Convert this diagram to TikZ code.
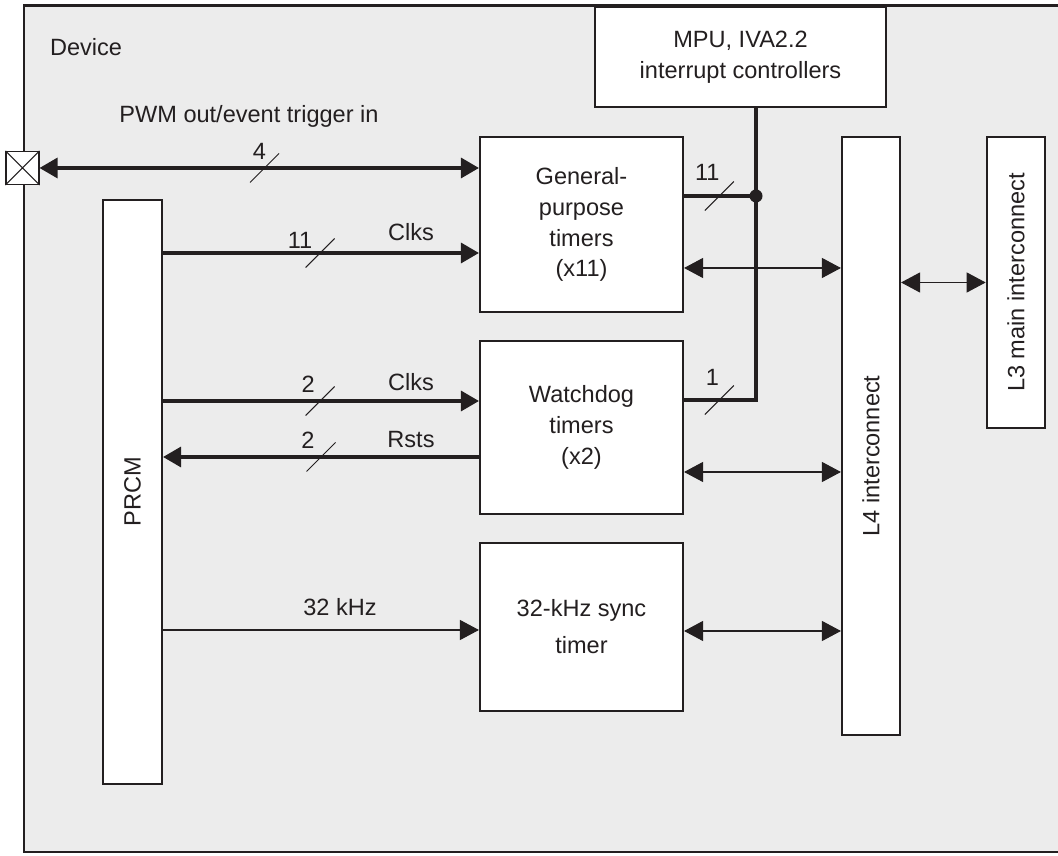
\documentclass[tikz,border=0pt]{standalone}
\usepackage{fontspec}
\setmainfont{Liberation Sans}
\usetikzlibrary{arrows.meta,calc}
\definecolor{inkdark}{HTML}{231F20}
\definecolor{devicefill}{HTML}{ECECEC}
\tikzset{
  devicebox/.style={draw=inkdark, fill=devicefill, line width=1.7pt},
  block/.style={
    rectangle, draw=inkdark, fill=white, line width=1.2pt,
    align=center, inner sep=2pt, text=inkdark,
    font=\fontsize{13.4}{17.6}\selectfont
  },
  timerblock/.style={block, minimum width=4.06cm, minimum height=3.5cm},
  rotlabel/.style={
    rotate=90, inner sep=0pt, text=inkdark,
    font=\fontsize{13.4}{17.6}\selectfont
  },
  plaintext/.style={
    inner sep=0pt, text=inkdark, align=center,
    font=\fontsize{13.4}{17.6}\selectfont
  },
  buslabel/.style={plaintext},
  pad/.style={
    rectangle, draw=inkdark, fill=white, line width=0.6pt,
    minimum size=0.66cm, inner sep=0pt
  },
  bus/.style={
    draw=inkdark, line width=1.8pt,
    >={Triangle[length=3.6mm,width=4mm]}
  },
  link/.style={
    draw=inkdark, line width=0.6pt,
    >={Triangle[length=3.8mm,width=4mm]}
  },
  busslash/.style={draw=inkdark, line width=0.6pt},
  tapdot/.style={circle, fill=inkdark, minimum size=0.26cm, inner sep=0pt}
}

\begin{document}
\begin{tikzpicture}[x=1cm,y=1cm]
  \useasboundingbox (0,0) rectangle (21.16,17.12);
  \draw[devicebox] (0.48,0.08) rectangle (21.70,17.01);
  \node[plaintext] (devlabel) at (1.72,16.18) {Device};

  \node[block, minimum width=5.82cm, minimum height=2.0cm] (mpu) at (14.81,15.98)
    {MPU, IVA2.2\\interrupt controllers};
  \node[timerblock] (gpt) at (11.63,12.63) {General-\\purpose\\timers\\(x11)};
  \node[timerblock, minimum height=3.46cm] (wdt) at (11.63,8.57) {Watchdog\\timers\\(x2)};
  \node[timerblock, minimum height=3.36cm] (sync) at (11.63,4.58) {32-kHz sync\\[0.12cm]timer};

  \node[block, minimum width=1.18cm, minimum height=11.68cm] (prcm) at (2.65,7.28) {};
  \node[rotlabel] (prcmtext) at (prcm) {PRCM};
  \node[block, minimum width=1.16cm, minimum height=11.96cm] (l4) at (17.42,8.40) {};
  \node[rotlabel] (l4text) at ([yshift=-0.4cm]l4.center) {L4 interconnect};
  \node[block, minimum width=1.17cm, minimum height=5.82cm] (l3) at (20.32,11.47) {};
  \node[rotlabel] (l3text) at (l3) {L3 main interconnect};

  \node[pad] (pad) at (0.45,13.76) {};
  \draw[busslash] (pad.north west) -- (pad.south east)
    (pad.south west) -- (pad.north east);

  % External pin and clock/reset lanes from PRCM.
  \draw[bus,<->] (pad.east) -- coordinate[pos=0.512] (pwmcut) (pad.east -| gpt.west);
  \node[plaintext] (pwmlabel) at (4.98,14.80) {PWM out/event trigger in};
  \node[buslabel] (pwmwidth) at ($(pwmcut)+(-0.10,0.34)$) {4};

  \coordinate (gpclk) at ([yshift=-0.57cm]gpt.west);
  \draw[bus,->] (prcm.east |- gpclk) -- coordinate[pos=0.497] (gpclkcut) (gpclk);
  \node[buslabel] (gpclkwidth) at ($(gpclkcut)+(-0.40,0.26)$) {11};
  \node[buslabel] (gpclklabel) at ($(gpclkcut)+(1.82,0.42)$) {Clks};

  \coordinate (wdclk) at ([yshift=0.53cm]wdt.west);
  \draw[bus,->] (prcm.east |- wdclk) -- coordinate[pos=0.497] (wdclkcut) (wdclk);
  \node[buslabel] (wdclkwidth) at ($(wdclkcut)+(-0.24,0.34)$) {2};
  \node[buslabel] (wdclklabel) at ($(wdclkcut)+(1.82,0.38)$) {Clks};

  \coordinate (wdrst) at ([yshift=-0.59cm]wdt.west);
  \draw[bus,->] (wdrst) -- coordinate[pos=0.5] (wdrstcut) (prcm.east |- wdrst);
  \node[buslabel] (wdrstwidth) at ($(wdrstcut)+(-0.26,0.34)$) {2};
  \node[buslabel] (wdrstlabel) at ($(wdrstcut)+(1.80,0.34)$) {Rsts};

  \coordinate (syncclk) at ([yshift=-0.06cm]sync.west);
  \draw[link,->] (prcm.east |- syncclk) --
    node[buslabel, pos=0.56, yshift=0.46cm] (synclabel) {32 kHz} (syncclk);

  % Interrupt lines into the MPU/IVA2.2 controllers.
  \coordinate (irqtap) at ([xshift=0.31cm]mpu.south);
  \coordinate (gpirq) at ([yshift=0.57cm]gpt.east);
  \coordinate (wdirq) at ([yshift=0.55cm]wdt.east);
  \draw[bus] (gpirq) -- coordinate[pos=0.49] (gpirqcut) (gpirq -| irqtap);
  \draw[bus, line join=miter] (irqtap) -- (irqtap |- wdirq)
    -- coordinate[pos=0.51] (wdirqcut) (wdirq);
  \node[tapdot] (irqdot) at (gpirq -| irqtap) {};
  \node[buslabel] (gpirqwidth) at ($(gpirqcut)+(-0.24,0.48)$) {11};
  \node[buslabel] (wdirqwidth) at ($(wdirqcut)+(-0.14,0.46)$) {1};

  \foreach \cut in {pwmcut,gpclkcut,wdclkcut,wdrstcut,gpirqcut,wdirqcut}
    \draw[busslash] ($(\cut)+(-0.29,-0.29)$) -- ++(0.58,0.58);

  % Register access over L4, and L4 to L3.
  \draw[link,<->] ([yshift=-0.87cm]gpt.east) -- ([yshift=-0.87cm]gpt.east -| l4.west);
  \draw[link,<->] ([yshift=-0.89cm]wdt.east) -- ([yshift=-0.89cm]wdt.east -| l4.west);
  \draw[link,<->] ([yshift=-0.08cm]sync.east) -- ([yshift=-0.08cm]sync.east -| l4.west);
  \draw[link,<->] (l3.west -| l4.east) -- (l3.west);
\end{tikzpicture}
\end{document}
